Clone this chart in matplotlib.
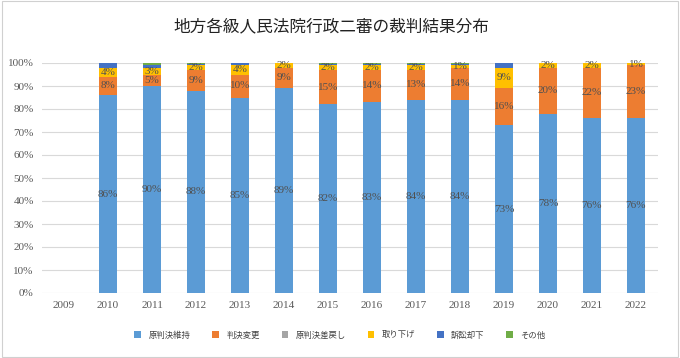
import matplotlib
matplotlib.use("Agg")
import matplotlib.pyplot as plt
import numpy as np

years = [str(y) for y in range(2009, 2023)]
series_names = ["原判決維持", "判決変更", "原判決差戻し", "取り下げ", "訴訟却下", "その他"]
upheld   = [0, 86, 90, 88, 85, 89, 82, 83, 84, 84, 73, 78, 76, 76]
changed  = [0, 8, 5, 9, 10, 9, 15, 14, 13, 14, 16, 20, 22, 23]
remanded = [0, 0, 0, 0, 0, 0, 0, 0, 0, 0, 0, 0, 0, 0]
withdrawn= [0, 4, 3, 2, 4, 2, 2, 2, 2, 1, 9, 2, 2, 1]
dismissed= [0, 2, 1, 0.6, 1, 0, 0.7, 0.6, 0.5, 0.4, 2, 0, 0, 0]
other    = [0, 0, 1, 0.4, 0, 0, 0.3, 0.4, 0.5, 0.6, 0, 0, 0, 0]
labeled = [True, True, False, True, False, False]

colors = ["#5B9BD5", "#ED7D31", "#A5A5A5", "#FFC000", "#4472C4", "#70AD47"]
data = [upheld, changed, remanded, withdrawn, dismissed, other]

plt.rcParams['font.family'] = ['Noto Sans CJK JP', 'DejaVu Sans']
fig = plt.figure(figsize=(6.8, 3.58), dpi=100)
ax = fig.add_axes([42/680, 1-293/358, (658-42)/680, (293-63)/358])

x = np.arange(len(years))
bottom = np.zeros(len(years))
handles = []
for name, vals, col, lab in zip(series_names, data, colors, labeled):
    vals = np.array(vals, dtype=float)
    h = ax.bar(x, vals, 0.41, bottom=bottom, color=col, label=name, zorder=3)
    handles.append(h)
    if lab:
        for xi, v, b in zip(x, vals, bottom):
            if v >= 1:
                ax.text(xi, b + v/2, f"{int(round(v))}%", ha="center", va="center",
                        fontsize=8, color="#505050", family="Liberation Serif", zorder=4)
    bottom += vals

ax.set_ylim(0, 100)
ax.set_xlim(-0.5, len(years)-0.5)
ax.set_yticks(range(0, 101, 10))
ax.set_yticklabels([f"{v}%" for v in range(0, 101, 10)], family="Liberation Serif",
                   fontsize=8, color="#595959")
ax.set_xticks(x)
ax.set_xticklabels(years, family="Liberation Serif", fontsize=8, color="#595959")
ax.tick_params(length=0, pad=6)
ax.grid(axis="y", color="#D9D9D9", linewidth=0.8, zorder=0)
for s in ax.spines.values():
    s.set_visible(False)

fig.text(0.487, 1-27/358, "地方各級人民法院行政二審の裁判結果分布", ha="center", va="center",
         fontsize=12, color="#222222")

leg = fig.legend(handles=handles, labels=series_names, loc="center", ncol=6,
                 bbox_to_anchor=(0.5, 1-335/358), frameon=False, fontsize=6,
                 handlelength=0.8, handleheight=0.8, columnspacing=2.6, handletextpad=0.9)
for t in leg.get_texts():
    t.set_color("#404040")

border = plt.Rectangle((0.003, 0.003), 0.994, 0.994, transform=fig.transFigure,
                       fill=False, edgecolor="#D0D0D0", linewidth=0.8)
fig.patches.append(border)

fig.savefig("out.png", dpi=100)
